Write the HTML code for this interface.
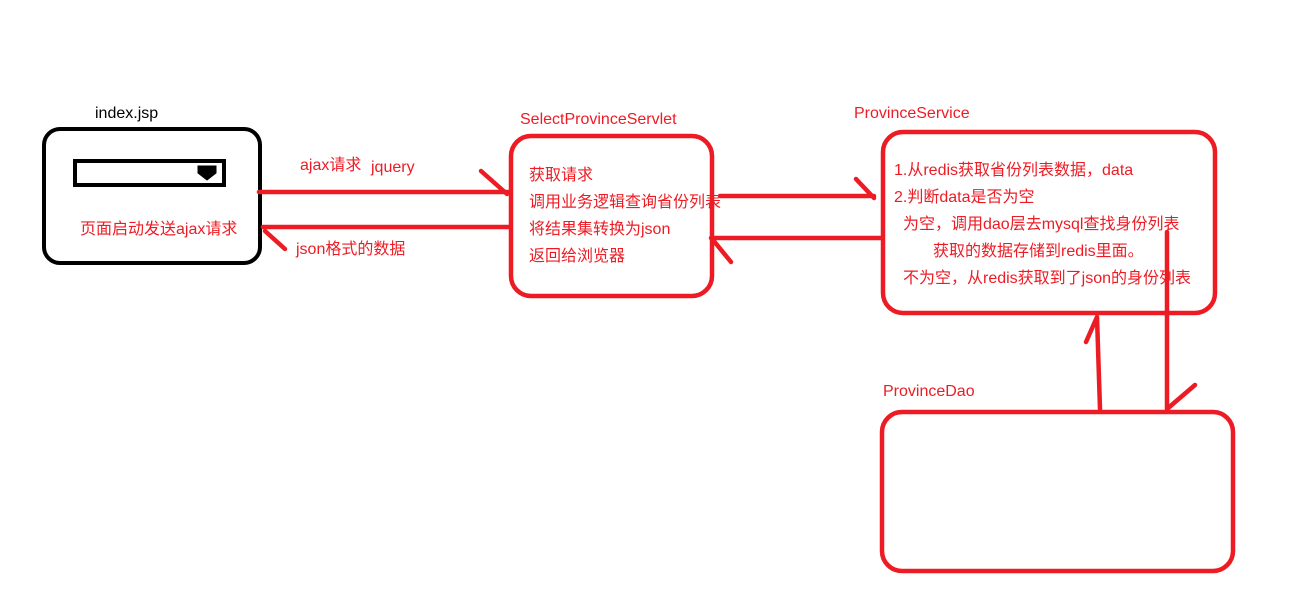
<!DOCTYPE html>
<html><head><meta charset="utf-8"><style>
html,body{margin:0;padding:0;background:#fff;}
svg{display:block;}
text{font-family:"Liberation Sans","Noto Sans CJK SC",sans-serif;font-size:16px;fill:#ed1c24;}
</style></head><body>
<svg width="1316" height="607" viewBox="0 0 1316 607" xmlns="http://www.w3.org/2000/svg">
<g fill="none" stroke-linecap="round">
<rect x="44" y="129" width="216" height="134" rx="16" stroke="#000" stroke-width="4"/>
<rect x="75" y="161" width="149" height="24" stroke="#000" stroke-width="4"/>
<path d="M198 166 L216 166 L216 173 L207 180 L198 173 Z" fill="#000" stroke="#000" stroke-width="1"/>
<g stroke="#ed1c24" stroke-width="4.5">
<rect x="511" y="136" width="201" height="160" rx="20"/>
<rect x="883" y="132" width="332" height="181" rx="20"/>
<rect x="882" y="412" width="351" height="159" rx="20"/>
<path d="M259 192 L508 192 M481 171 L507 194"/>
<path d="M263 227 L509 227 M265 231 L285 249"/>
<path d="M720 196 L874 196 M856 179 L874 198"/>
<path d="M881 238 L711 238 M713 240 L731 262"/>
<path d="M1100 409 L1097 317 M1097 317 L1086 342"/>
<path d="M1167 232 L1167 409 M1195 385 L1167 409"/>
</g>
</g>
<text x="95" y="118" style="fill:#000">index.jsp</text>
<text x="80" y="234">页面启动发送ajax请求</text>
<text x="300" y="170">ajax请求</text>
<text x="371" y="172">jquery</text>
<text x="296" y="254">json格式的数据</text>
<text x="520" y="124">SelectProvinceServlet</text>
<text x="529" y="180">获取请求</text>
<text x="529" y="207">调用业务逻辑查询省份列表</text>
<text x="529" y="234">将结果集转换为json</text>
<text x="529" y="261">返回给浏览器</text>
<text x="854" y="118">ProvinceService</text>
<text x="894" y="175">1.从redis获取省份列表数据，data</text>
<text x="894" y="202">2.判断data是否为空</text>
<text x="903" y="229">为空，调用dao层去mysql查找身份列表</text>
<text x="933" y="256">获取的数据存储到redis里面。</text>
<text x="903" y="283">不为空，从redis获取到了json的身份列表</text>
<text x="883" y="396">ProvinceDao</text>
</svg>
</body></html>
